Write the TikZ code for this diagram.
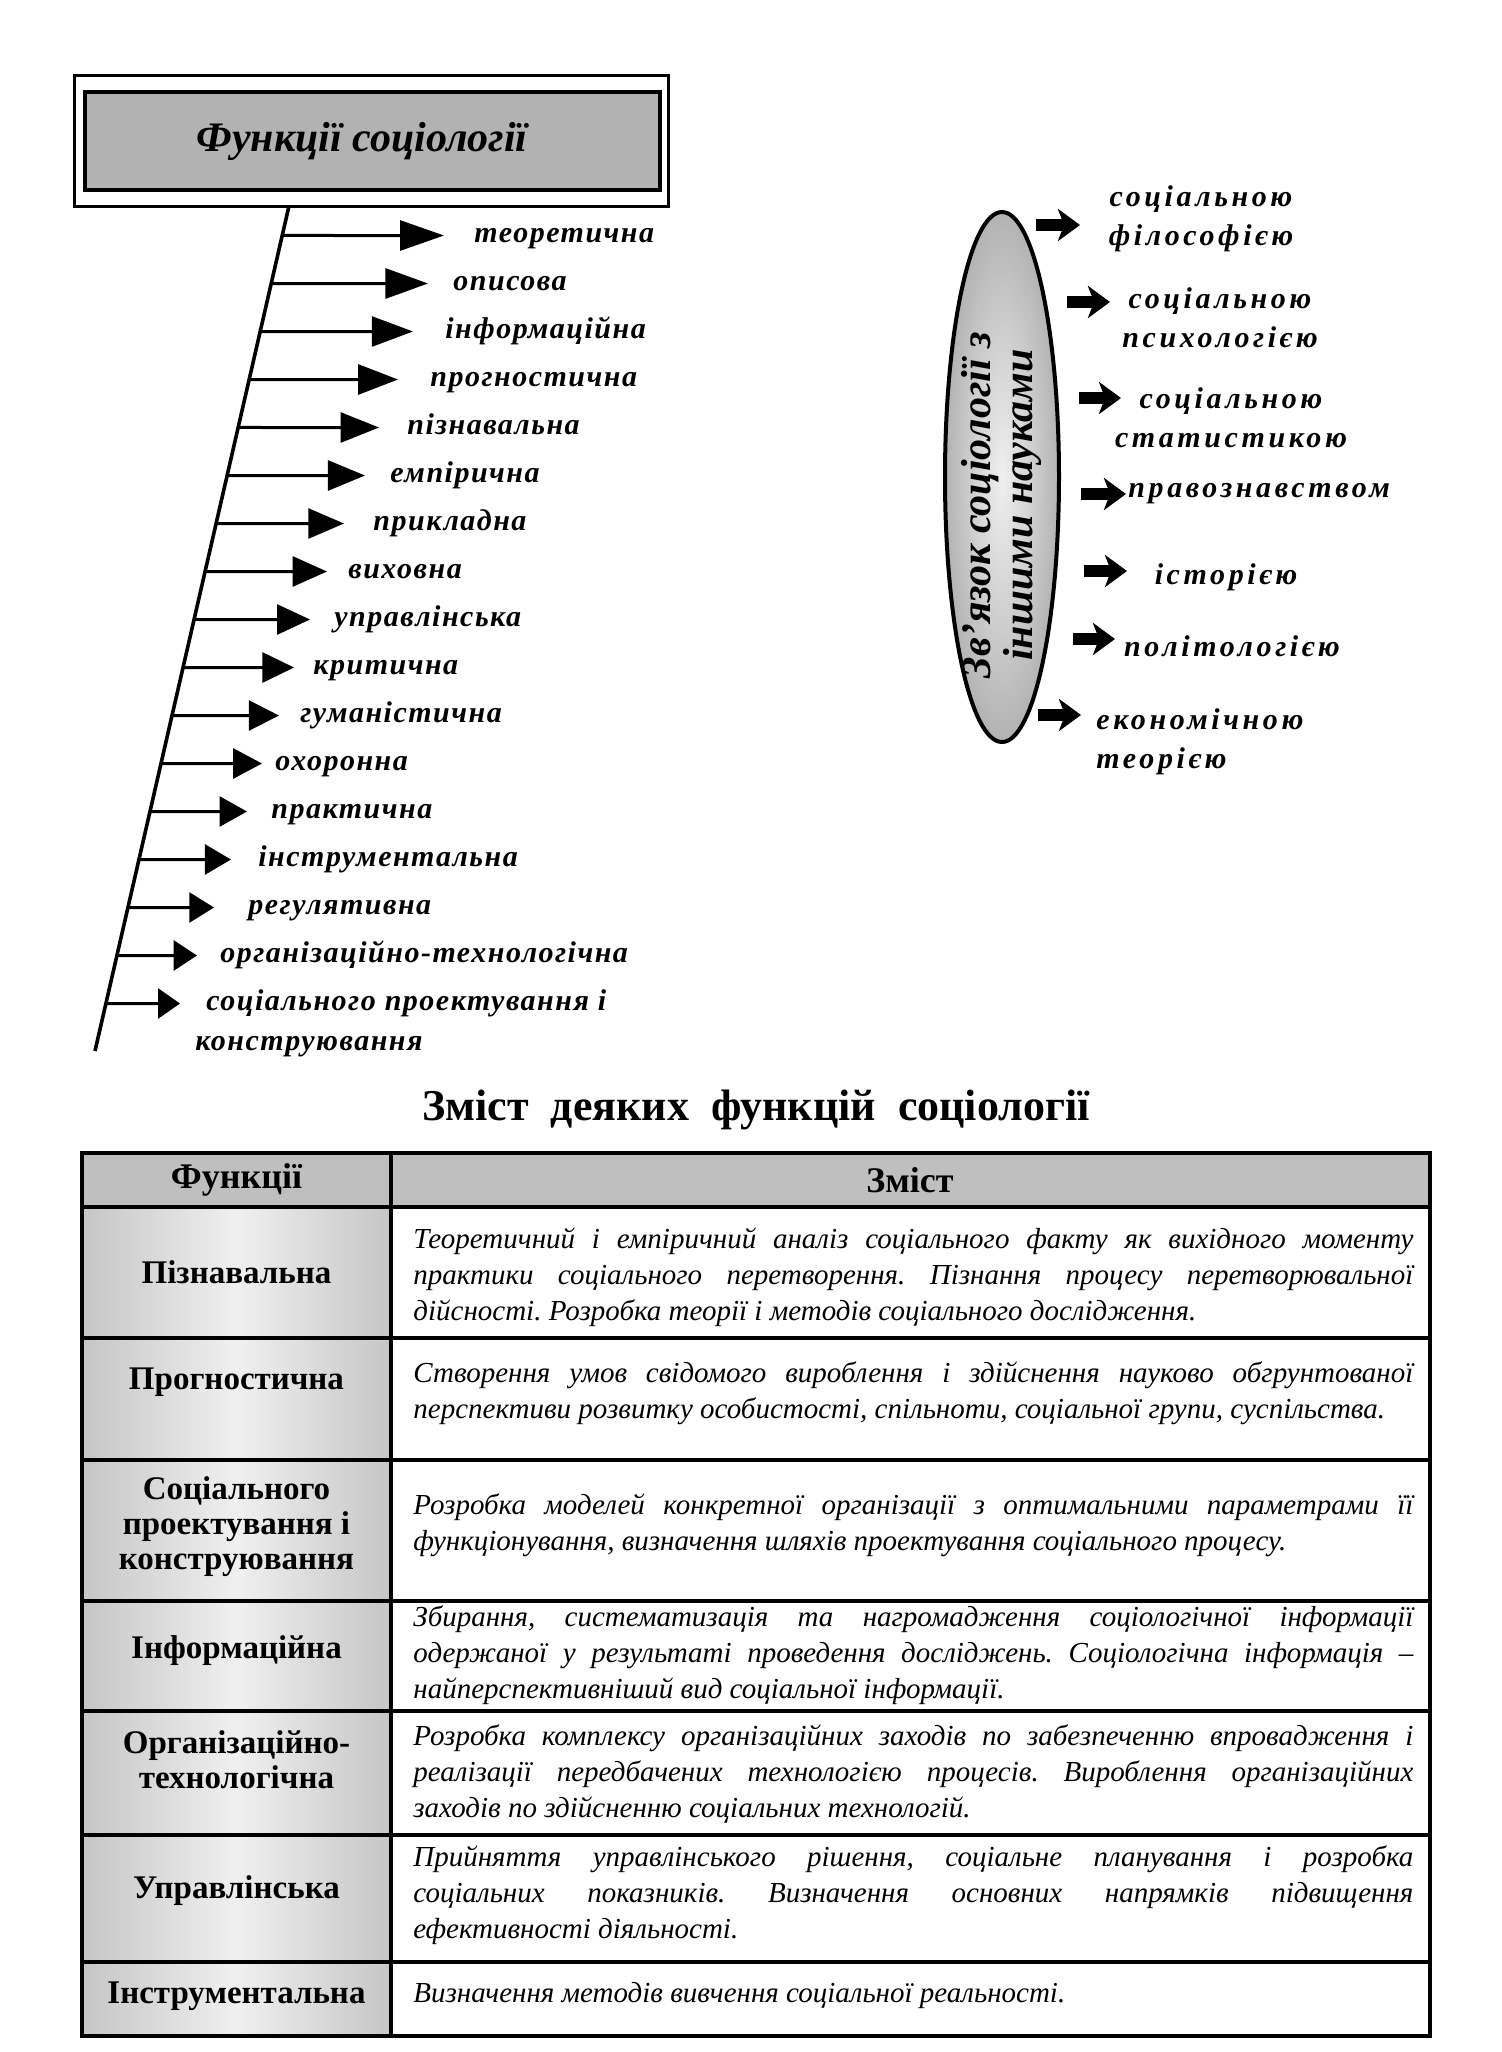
\documentclass[tikz,border=0pt]{standalone}
\usepackage{fontspec}
\setmainfont{Liberation Serif}
\newfontfamily\spacedfont[LetterSpace=5]{Liberation Serif}
\newfontfamily\widefont[LetterSpace=12]{Liberation Serif}
\usetikzlibrary{arrows.meta,calc,shapes.geometric}
\tolerance=9999
\hbadness=10000
\frenchspacing

\begin{document}
\begin{tikzpicture}[x=0.5pt,y=-0.5pt,
  titlefont/.style={font=\bfseries\itshape\fontsize{21pt}{24pt}\selectfont},
  flabel/.style={font=\spacedfont\bfseries\itshape\fontsize{15pt}{20pt}\selectfont,anchor=base west,inner sep=0pt},
  slabel/.style={font=\widefont\bfseries\itshape\fontsize{15pt}{19.5pt}\selectfont,inner sep=0pt,align=center},
  fnarrow/.style={line width=1.5pt,-{Triangle[length=#1,width=15pt]}},
  blockarrow/.style={line width=6pt,-{Stealth[length=11pt,width=16pt,inset=3pt]}},
  rowhead/.style={font=\bfseries\fontsize{16.5pt}{17.5pt}\selectfont,align=center,inner sep=0pt},
  rowtext/.style={font=\itshape\fontsize{14.5pt}{18pt}\selectfont,align=justify,text width=500pt,inner sep=0pt,anchor=west},
  grid/.style={line width=2pt}]
\path[use as bounding box] (0,0) rectangle (1502,2052);
\fill[white] (0,0) rectangle (1502,2052);

% title box
\draw[line width=1.5pt] (74,75) rectangle (668,206);
\draw[line width=2pt,fill=gray!60] (85,92) rectangle (660,190);
\node[titlefont] (title) at (362,141) {Функції соціології};

% slanted line with the functions
\coordinate (ltop) at (289,206);
\coordinate (lbot) at (95,1051);
\draw[line width=1.8pt] (ltop) -- (lbot);
\foreach \i/\tx/\lx/\fname in {1/444/474/теоретична,2/428/453/описова,
    3/413/445/інформаційна,4/398/430/прогностична,5/379/407/пізнавальна,
    6/365/390/емпірична,7/344/373/прикладна,8/327/348/виховна,
    9/310/334/управлінська,10/294/313/критична,11/279/300/гуманістична,
    12/262/275/охоронна,13/247/271/практична,14/231/258/інструментальна,
    15/214/248/регулятивна,16/197/220/організаційно-технологічна}{
  \pgfmathsetmacro\yy{235.5+48*(\i-1)}
  \pgfmathsetmacro\hl{22-11*(\i-1)/16}
  \coordinate (s\i) at ($(ltop)!{(\yy-206)/845}!(lbot)$);
  \coordinate (t\i) at (\tx,\yy);
  \node[flabel] (f\i) at (\lx,\yy+7) {\fname};
  \draw[fnarrow=\hl pt] (s\i) -- (t\i);
}
\coordinate (s17) at ($(ltop)!{(1003.5-206)/845}!(lbot)$);
\coordinate (t17) at (180,1003.5);
\node[flabel,align=left] (f17) at (195,1050.5)
  {\hspace*{5.5pt}соціального проектування і\\конструювання};
\draw[fnarrow=11pt] (s17) -- (t17);

% links with other sciences
\node[ellipse,draw,line width=2pt,shade,inner color=gray!12,outer color=gray!60,
  minimum width=57pt,minimum height=265pt,inner sep=0pt] (links) at (1002,477) {};
\node[rotate=90,align=center,inner sep=0pt,
  font=\bfseries\itshape\fontsize{21pt}{21pt}\selectfont] (linkstext) at (1001,505)
  {Зв’язок соціології з\\іншими науками};
\node[slabel] (r1) at (1201,219) {соціальною\\філософією};
\node[slabel] (r2) at (1220,318) {соціальною\\психологією};
\node[slabel] (r3) at (1231,418) {соціальною\\статистикою};
\node[slabel,anchor=west] (r4) at (1128,494) {правознавством};
\node[slabel] (r5) at (1226,577) {історією};
\node[slabel] (r6) at (1232,646) {політологією};
\node[slabel,anchor=west,align=left] (r7) at (1096,742) {економічною\\теорією};
\coordinate (a1) at (1036,225); \coordinate (b1) at (1080,225);
\coordinate (a2) at (1067,302); \coordinate (b2) at (1110,302);
\coordinate (a3) at (1079,398); \coordinate (b3) at (1121,398);
\coordinate (a4) at (1081,494); \coordinate (b4) at (1126,494);
\coordinate (a5) at (1084,571); \coordinate (b5) at (1127,571);
\coordinate (a6) at (1073,639); \coordinate (b6) at (1115,639);
\coordinate (a7) at (1038,715); \coordinate (b7) at (1081,715);
\foreach \i in {1,...,7}
  \draw[blockarrow] (a\i) -- (b\i);

% table
\node[font=\bfseries\fontsize{22pt}{24pt}\selectfont] (heading) at (756,1110)
  {Зміст\ \ деяких\ \ функцій\ \ соціології};
\fill[gray!50] (82,1153) rectangle (1430,1207);
\shade[left color=gray!45,right color=gray!45,middle color=gray!12] (82,1207) rectangle (391,2036);
\draw[grid] (82,1153) rectangle (1430,2036);
\draw[grid] (391,1153) -- (391,2036);
\foreach \y in {1207,1338,1460,1601,1711,1835,1962}
  \draw[grid] (82,\y) -- (1430,\y);
\node[rowhead,font=\bfseries\fontsize{18pt}{18pt}\selectfont] (h1) at (236.5,1180) {Функції};
\node[rowhead,font=\bfseries\fontsize{18pt}{18pt}\selectfont] (h2) at (910,1180) {Зміст};
\node[rowhead] (l1) at (236.5,1272) {Пізнавальна};
\node[rowhead] (l2) at (236.5,1382) {Прогностична};
\node[rowhead] (l3) at (236.5,1527) {Соціального\\проектування і\\конструювання};
\node[rowhead] (l4) at (236.5,1651) {Інформаційна};
\node[rowhead] (l5) at (236.5,1760) {Організаційно-\\технологічна};
\node[rowhead] (l6) at (236.5,1891) {Управлінська};
\node[rowhead] (l7) at (236.5,1996) {Інструментальна};
\node[rowtext] (c1) at (413,1277) {Теоретичний і емпіричний аналіз соціального факту як вихідного моменту\linebreak
  практики соціального перетворення. Пізнання процесу перетворювальної\linebreak
  дійсності. Розробка теорії і методів соціального дослідження.};
\node[rowtext] (c2) at (413,1393) {Створення умов свідомого вироблення і здійснення науково обгрунтованої\linebreak
  перспективи розвитку особистості, спільноти, соціальної групи, суспільства.};
\node[rowtext] (c3) at (413,1525) {Розробка моделей конкретної організації з оптимальними параметрами її\linebreak
  функціонування, визначення шляхів проектування соціального процесу.};
\node[rowtext] (c4) at (413,1655) {Збирання, систематизація та нагромадження соціологічної інформації\linebreak
  одержаної у результаті проведення досліджень. Соціологічна інформація –\linebreak
  найперспективніший вид соціальної інформації.};
\node[rowtext] (c5) at (413,1774) {Розробка комплексу організаційних заходів по забезпеченню впровадження і\linebreak
  реалізації передбачених технологією процесів. Вироблення організаційних\linebreak
  заходів по здійсненню соціальних технологій.};
\node[rowtext] (c6) at (413,1895) {Прийняття управлінського рішення, соціальне планування і розробка\linebreak
  соціальних показників. Визначення основних напрямків підвищення\linebreak
  ефективності діяльності.};
\node[rowtext] (c7) at (413,1996) {Визначення методів вивчення соціальної реальності.};
\end{tikzpicture}
\end{document}
